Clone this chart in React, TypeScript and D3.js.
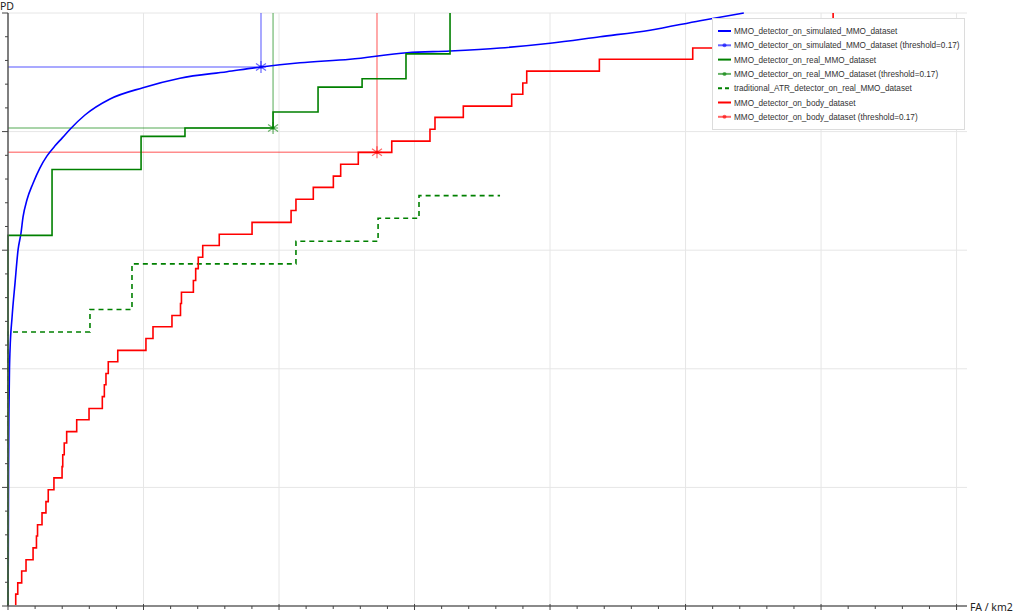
import React, { useEffect, useRef } from 'react';
import * as d3 from 'd3';

const W = 1019;
const H = 613;

// MMO_detector_on_simulated_MMO_dataset (smooth ROC)
const simFA = [0, 0.002, 0.004, 0.007, 0.011, 0.015, 0.03, 0.052, 0.074, 0.096, 0.111, 0.14, 0.185, 0.236, 0.288, 0.347, 0.399, 0.458, 0.568, 0.753, 0.996, 1.269, 1.616, 1.867, 2.155, 2.524, 2.945, 3.262, 3.631, 4.0, 4.369, 4.738, 5.107, 5.43];
const simPD = [0, 0.078, 0.229, 0.331, 0.401, 0.432, 0.487, 0.545, 0.6, 0.629, 0.656, 0.685, 0.713, 0.739, 0.759, 0.776, 0.789, 0.804, 0.828, 0.855, 0.874, 0.89, 0.901, 0.909, 0.916, 0.922, 0.933, 0.936, 0.941, 0.949, 0.96, 0.971, 0.987, 1.0];
const simThr = { fa: 1.867, pd: 0.909 };

// MMO_detector_on_real_MMO_dataset (step)
const realFA = [0, 0, 0.325, 0.982, 1.306, 1.956, 2.288, 2.613, 2.937, 3.262];
const realPD = [0, 0.625, 0.736, 0.792, 0.806, 0.833, 0.875, 0.889, 0.931, 1.0];
const realThr = { fa: 1.956, pd: 0.806 };

// traditional_ATR_detector_on_real_MMO_dataset (step, dashed)
const atrFA = [0, 0, 0.605, 0.915, 2.125, 2.731, 3.033, 3.631];
const atrPD = [0, 0.462, 0.5, 0.577, 0.615, 0.654, 0.692, 0.692];

// MMO_detector_on_body_dataset (step)
const bodyFA = [0, 0.057, 0.072, 0.101, 0.133, 0.185, 0.21, 0.218, 0.251, 0.28, 0.297, 0.339, 0.399, 0.404, 0.415, 0.433, 0.507, 0.598, 0.696, 0.711, 0.723, 0.74, 0.81, 1.018, 1.07, 1.21, 1.273, 1.28, 1.368, 1.385, 1.404, 1.437, 1.559, 1.801, 2.089, 2.125, 2.253, 2.401, 2.455, 2.585, 2.832, 3.114, 3.151, 3.36, 3.717, 3.799, 3.828, 4.364, 5.053, 5.439, 5.771, 6.089];
const bodyPD = [0, 0.02, 0.039, 0.059, 0.078, 0.098, 0.118, 0.137, 0.157, 0.176, 0.196, 0.216, 0.235, 0.255, 0.275, 0.294, 0.314, 0.333, 0.353, 0.373, 0.392, 0.412, 0.431, 0.451, 0.471, 0.49, 0.51, 0.529, 0.549, 0.569, 0.588, 0.608, 0.627, 0.647, 0.667, 0.686, 0.706, 0.725, 0.745, 0.765, 0.784, 0.804, 0.824, 0.843, 0.863, 0.882, 0.902, 0.922, 0.941, 0.961, 0.98, 1.0];
const bodyThr = { fa: 2.723, pd: 0.765 };

const legendLabels = [
  'MMO_detector_on_simulated_MMO_dataset',
  'MMO_detector_on_simulated_MMO_dataset (threshold=0.17)',
  'MMO_detector_on_real_MMO_dataset',
  'MMO_detector_on_real_MMO_dataset (threshold=0.17)',
  'traditional_ATR_detector_on_real_MMO_dataset',
  'MMO_detector_on_body_dataset',
  'MMO_detector_on_body_dataset (threshold=0.17)',
];

const BLUE = '#0000ff';
const GREEN = '#008000';
const RED = '#ff0000';

export default function App() {
  const ref = useRef<SVGSVGElement>(null);

  useEffect(() => {
    const svg = d3.select(ref.current);
    svg.selectAll('*').remove();

    const x = d3.scaleLinear().domain([0, 7.077]).range([8, 967]);
    const y = d3.scaleLinear().domain([0, 1]).range([606, 13]);

    const g = svg.append('g');

    // grid
    const xMajor = d3.range(1, 8);
    const yMajor = [0.2, 0.4, 0.6, 0.8, 1.0];
    g.selectAll('.vg').data(xMajor).join('line')
      .attr('x1', d => x(d)).attr('x2', d => x(d))
      .attr('y1', y(0)).attr('y2', y(1))
      .attr('stroke', '#e6e6e6').attr('stroke-width', 1);
    g.selectAll('.hg').data(yMajor).join('line')
      .attr('x1', x(0)).attr('x2', x.range()[1])
      .attr('y1', d => y(d)).attr('y2', d => y(d))
      .attr('stroke', '#e6e6e6').attr('stroke-width', 1);

    // threshold guide lines
    const thrs = [
      { t: simThr, c: 'rgba(0,0,255,0.45)' },
      { t: realThr, c: 'rgba(0,128,0,0.45)' },
      { t: bodyThr, c: 'rgba(255,0,0,0.45)' },
    ];
    thrs.forEach(({ t, c }) => {
      g.append('line').attr('x1', x(0)).attr('x2', x(t.fa) + 5)
        .attr('y1', y(t.pd)).attr('y2', y(t.pd)).attr('stroke', c).attr('stroke-width', 1.5);
      g.append('line').attr('x1', x(t.fa)).attr('x2', x(t.fa))
        .attr('y1', y(1)).attr('y2', y(t.pd)).attr('stroke', c).attr('stroke-width', 1.5);
    });

    const smooth = d3.line<number>().x((_, i) => x(simFA[i])).y(d => y(d)).curve(d3.curveMonotoneX);
    const stepLine = (fa: number[]) => d3.line<number>().x((_, i) => x(fa[i])).y(d => y(d)).curve(d3.curveStepAfter);

    g.append('path').attr('d', smooth(simPD)).attr('fill', 'none').attr('stroke', BLUE).attr('stroke-width', 1.6);
    g.append('path').attr('d', stepLine(atrFA)(atrPD)).attr('fill', 'none').attr('stroke', GREEN)
      .attr('stroke-width', 1.6).attr('stroke-dasharray', '5,4');
    g.append('path').attr('d', stepLine(bodyFA)(bodyPD)).attr('fill', 'none').attr('stroke', RED).attr('stroke-width', 1.6);
    g.append('path').attr('d', stepLine(realFA)(realPD)).attr('fill', 'none').attr('stroke', GREEN).attr('stroke-width', 1.6);

    // threshold markers (asterisks)
    const star = 'M0,-6L0,6M-5,-3.5L5,3.5M-5,3.5L5,-3.5';
    [
      { t: simThr, c: 'rgba(0,0,255,0.6)' },
      { t: realThr, c: 'rgba(0,128,0,0.6)' },
      { t: bodyThr, c: 'rgba(255,0,0,0.6)' },
    ].forEach(({ t, c }) => {
      const m = g.append('g').attr('transform', `translate(${x(t.fa)},${y(t.pd)})`);
      m.append('path').attr('d', star).attr('stroke', c).attr('stroke-width', 1.2).attr('fill', 'none');
      m.append('circle').attr('r', 1.8).attr('fill', c);
    });

    // axes
    const ax = svg.append('g');
    ax.append('line').attr('x1', x(0)).attr('x2', 967).attr('y1', y(0)).attr('y2', y(0))
      .attr('stroke', '#8a8a8a').attr('stroke-width', 2);
    ax.append('line').attr('x1', x(0)).attr('x2', x(0)).attr('y1', y(0)).attr('y2', y(1))
      .attr('stroke', '#555').attr('stroke-width', 1.5);

    const xMinor = d3.range(0, 7.01, 0.2);
    ax.selectAll('.xt').data(xMinor).join('line')
      .attr('x1', d => x(d)).attr('x2', d => x(d))
      .attr('y1', d => (Math.abs(d - Math.round(d)) < 1e-6 ? y(0) - 2 : y(0)))
      .attr('y2', d => (Math.abs(d - Math.round(d)) < 1e-6 ? y(0) + 4 : y(0) + 3))
      .attr('stroke', '#444').attr('stroke-width', 1);
    const yMinor = d3.range(0, 1.001, 0.04);
    ax.selectAll('.yt').data(yMinor).join('line')
      .attr('x1', d => (Math.abs(d * 5 - Math.round(d * 5)) < 1e-6 ? x(0) - 6 : x(0) - 3))
      .attr('x2', x(0))
      .attr('y1', d => y(d)).attr('y2', d => y(d))
      .attr('stroke', '#444').attr('stroke-width', 1);

    ax.append('text').attr('x', 0).attr('y', 10).text('PD')
      .attr('font-family', 'Noto Sans, sans-serif').attr('font-size', 10.5).attr('fill', '#222');
    ax.append('text').attr('x', 970).attr('y', 611).text('FA / km2')
      .attr('font-family', 'Noto Sans, sans-serif').attr('font-size', 10.5).attr('fill', '#222');

    // legend
    const lg = svg.append('g');
    lg.append('rect').attr('x', 712.5).attr('y', 18.5).attr('width', 252).attr('height', 111)
      .attr('fill', '#fff').attr('stroke', '#dcdcdc');
    const styles = [
      { c: BLUE, dash: null, dot: false },
      { c: 'rgba(0,0,255,0.6)', dash: null, dot: true },
      { c: GREEN, dash: null, dot: false },
      { c: 'rgba(0,128,0,0.6)', dash: null, dot: true },
      { c: GREEN, dash: '4,3', dot: false },
      { c: RED, dash: null, dot: false },
      { c: 'rgba(255,0,0,0.6)', dash: null, dot: true },
    ];
    legendLabels.forEach((lab, i) => {
      const cy = 31 + i * 14.3;
      const s = styles[i];
      const ln = lg.append('line').attr('x1', 718).attr('x2', 731).attr('y1', cy).attr('y2', cy)
        .attr('stroke', s.c).attr('stroke-width', 2);
      if (s.dash) ln.attr('stroke-dasharray', s.dash);
      if (s.dot) lg.append('circle').attr('cx', 724.5).attr('cy', cy).attr('r', 2).attr('fill', s.c);
      lg.append('text').attr('x', 734).attr('y', cy + 3).text(lab)
        .attr('font-family', 'Liberation Sans, Arial, sans-serif').attr('font-size', 8.2).attr('fill', '#333');
    });
  }, []);

  return <svg ref={ref} width={W} height={H} style={{ position: 'absolute', left: 0, top: 0 }} />;
}
